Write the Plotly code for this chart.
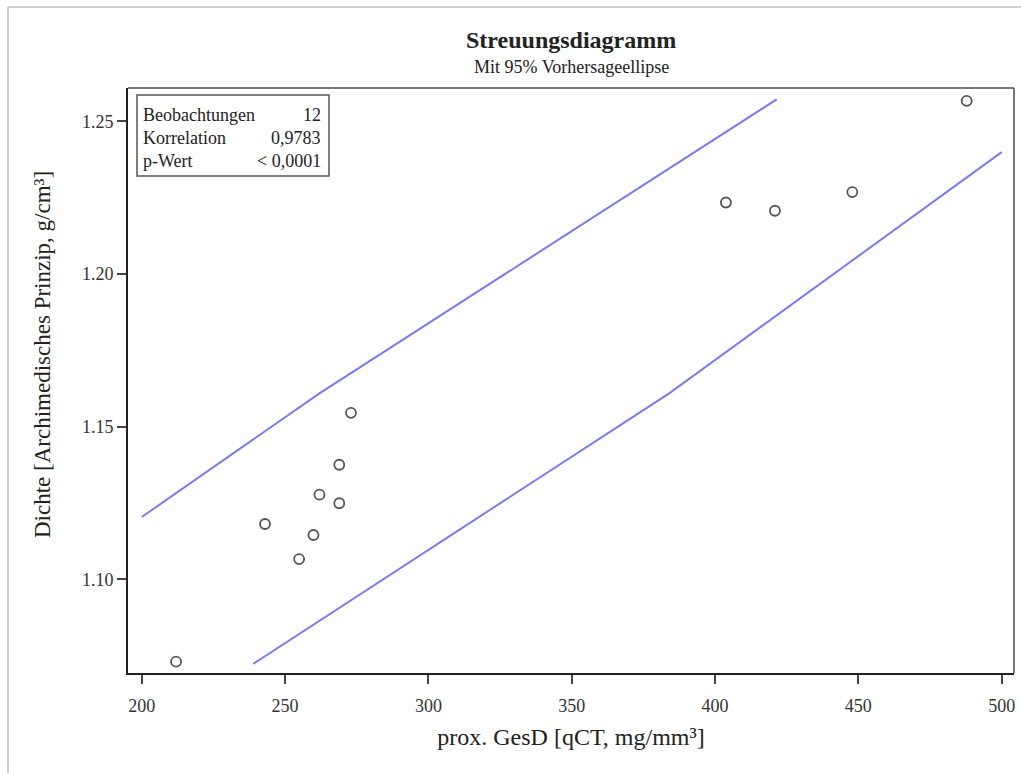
import plotly.graph_objects as go

# Observations
x_vals = [211.97, 243.0, 254.9, 259.9, 262.0, 268.9, 268.9, 273.0, 403.8, 420.9, 447.9, 487.8]
y_vals = [1.0730, 1.1181, 1.1066, 1.1145, 1.1277, 1.1249, 1.1375, 1.1545, 1.2234, 1.2207, 1.2268, 1.2567]

# 95% prediction ellipse (visible parts)
upper_x = [200.0, 262.0, 421.5]
upper_y = [1.1204, 1.1609, 1.2572]
lower_x = [238.9, 384.0, 500.0]
lower_y = [1.0723, 1.1609, 1.2399]

x_ticks = [200, 250, 300, 350, 400, 450, 500]
y_ticks = [1.10, 1.15, 1.20, 1.25]

stats_labels = ["Beobachtungen", "Korrelation", "p-Wert"]
stats_values = ["12", "0,9783", "< 0,0001"]

FONT = "Liberation Serif"
ELL = "#7B7BF0"

fig = go.Figure()
fig.add_trace(go.Scatter(x=upper_x, y=upper_y, mode="lines",
                         line=dict(color=ELL, width=2), hoverinfo="skip", showlegend=False))
fig.add_trace(go.Scatter(x=lower_x, y=lower_y, mode="lines",
                         line=dict(color=ELL, width=2), hoverinfo="skip", showlegend=False))
fig.add_trace(go.Scatter(x=x_vals, y=y_vals, mode="markers",
                         marker=dict(symbol="circle-open", size=10, color="#555555",
                                     line=dict(width=1.8, color="#555555")),
                         showlegend=False))

fig.update_layout(
    width=1021, height=773,
    margin=dict(l=128, r=7, t=88, b=100, autoexpand=False),
    paper_bgcolor="white", plot_bgcolor="white",
    font=dict(family=FONT, color="#222222"),
    showlegend=False,
)
fig.update_xaxes(range=[195.2, 504.3], tickvals=x_ticks, ticktext=[str(v) for v in x_ticks],
                 ticks="outside", ticklen=9, tickwidth=1.5, tickcolor="#444",
                 ticklabelstandoff=6,
                 showline=True, linecolor="#222", linewidth=2, showgrid=False, zeroline=False,
                 tickfont=dict(size=18, color="#333", family=FONT),
                 title=dict(text="prox. GesD [qCT, mg/mm³]", font=dict(size=24, family=FONT, color="#222"),
                            standoff=14))
fig.update_yaxes(range=[1.0693, 1.2609], tickvals=y_ticks, ticktext=["%.2f" % v for v in y_ticks],
                 ticks="outside", ticklen=9, tickwidth=1.5, tickcolor="#444",
                 showline=True, linecolor="#222", linewidth=2, showgrid=False, zeroline=False,
                 tickfont=dict(size=18, color="#333", family=FONT))

shapes = []
# gray top/right frame of plot area
shapes.append(dict(type="line", xref="paper", yref="paper", x0=0, x1=1, y0=1, y1=1,
                   line=dict(color="#777777", width=2)))
shapes.append(dict(type="line", xref="paper", yref="paper", x0=1, x1=1, y0=0, y1=1,
                   line=dict(color="#777777", width=2)))
# outer light frame of image
px = lambda v: (v - 128) / (1014 - 128)
py = lambda v: (673 - v) / (673 - 88)
shapes.append(dict(type="line", xref="paper", yref="paper", x0=px(8), x1=px(1030), y0=py(7), y1=py(7),
                   line=dict(color="#d0d0d0", width=2)))
shapes.append(dict(type="line", xref="paper", yref="paper", x0=px(8), x1=px(8), y0=py(7), y1=py(780),
                   line=dict(color="#d0d0d0", width=2)))
# stats box
shapes.append(dict(type="rect", xref="paper", yref="paper", x0=px(137), x1=px(329), y0=py(176), y1=py(95),
                   line=dict(color="#555555", width=1.5), fillcolor="white"))
fig.update_layout(shapes=shapes)

ann = []
ann.append(dict(text="<b>Streuungsdiagramm</b>", xref="paper", yref="paper", x=0.5, y=py(40),
                xanchor="center", yanchor="middle", showarrow=False,
                font=dict(size=24, family=FONT, color="#222")))
ann.append(dict(text="Mit 95% Vorhersageellipse", xref="paper", yref="paper", x=0.5, y=py(67),
                xanchor="center", yanchor="middle", showarrow=False,
                font=dict(size=18, family=FONT, color="#222")))
ann.append(dict(text="Dichte [Archimedisches Prinzip, g/cm³]", xref="paper", yref="paper",
                x=px(42), y=py(355), xanchor="center", yanchor="middle", textangle=-90,
                showarrow=False, font=dict(size=23, family=FONT, color="#222")))
row_y = [115, 138, 161]
for lab, val, ry in zip(stats_labels, stats_values, row_y):
    ann.append(dict(text=lab, xref="paper", yref="paper", x=px(141), y=py(ry),
                    xanchor="left", yanchor="middle", showarrow=False,
                    font=dict(size=18, family=FONT, color="#222")))
    ann.append(dict(text=val, xref="paper", yref="paper", x=px(323), y=py(ry),
                    xanchor="right", yanchor="middle", showarrow=False,
                    font=dict(size=18, family=FONT, color="#222")))
fig.update_layout(annotations=ann)

fig.write_html("out.html", config={"displayModeBar": False},
               post_script="document.body.style.margin='0';document.body.style.overflow='hidden';")
